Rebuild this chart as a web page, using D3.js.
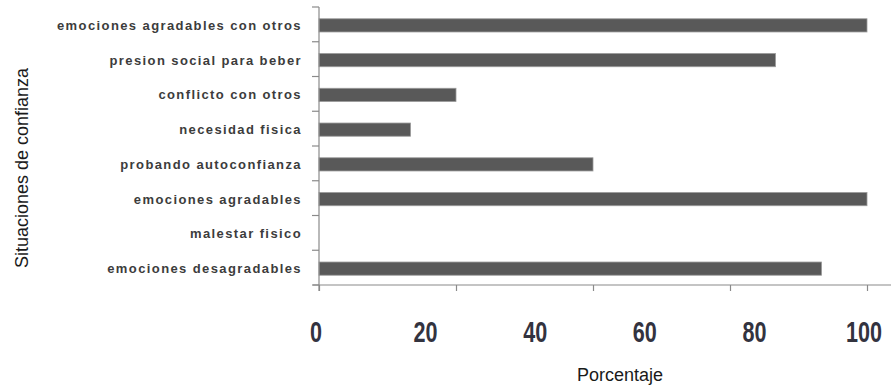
<!DOCTYPE html>
<html>
<head>
<meta charset="utf-8">
<script src="https://cdn.jsdelivr.net/npm/d3@7"></script>
<style>
  html, body { margin: 0; padding: 0; background: #fff; }
  svg { display: block; }
  .cat { font-family: "Liberation Sans", Arial, sans-serif; font-weight: bold; font-size: 13px; letter-spacing: 1.4px; fill: #3c3c3c; }
  .num { font-family: "Liberation Sans", Arial, sans-serif; font-weight: bold; font-size: 30px; fill: #33333f; }
  .title { font-family: "Liberation Sans", Arial, sans-serif; font-size: 18px; fill: #1a1a1a; }
</style>
</head>
<body>
<svg id="chart" width="891" height="387"></svg>
<script>
// Situaciones de confianza (porcentaje)
const categories = [
  "emociones agradables con otros",
  "presion social para beber",
  "conflicto con otros",
  "necesidad fisica",
  "probando autoconfianza",
  "emociones agradables",
  "malestar fisico",
  "emociones desagradables"
];
const values = [100, 83.3, 25, 16.7, 50, 100, 0, 91.7];
const tickMarks = [0, 25, 50, 75, 100];
const tickLabels = [0, 20, 40, 60, 80, 100];

const svg = d3.select("#chart");

const x = d3.scaleLinear().domain([0, 100]).range([318, 866]);
const y = d3.scaleBand()
  .domain(categories)
  .range([8, 286])
  .paddingInner(0.62)
  .paddingOuter(0.31);

const step = y.step();
const gap = (step - y.bandwidth()) / 2;

// Bars
svg.append("g")
  .selectAll("rect")
  .data(categories)
  .join("rect")
  .attr("x", x(0) + 1)
  .attr("y", d => y(d))
  .attr("width", (d, i) => Math.max(0, x(values[i]) - x(0)))
  .attr("height", y.bandwidth())
  .attr("fill", "#595959")
  .attr("stroke", "#9a9a9a")
  .attr("stroke-width", 0.8)
  .style("display", (d, i) => values[i] > 0 ? null : "none");

// Vertical axis with ticks at category boundaries
const bounds = categories.map(c => y(c) - gap - 1).concat([y(categories[categories.length - 1]) + y.bandwidth() + gap - 1]);
const axisY = svg.append("g").attr("stroke", "#8a8a8a").attr("stroke-width", 1.2);
axisY.append("line")
  .attr("x1", x(0) + 1).attr("x2", x(0) + 1)
  .attr("y1", bounds[0]).attr("y2", bounds[bounds.length - 1] + 6);
axisY.selectAll("line.t")
  .data(bounds)
  .join("line")
  .attr("class", "t")
  .attr("x1", x(0) - 6).attr("x2", x(0) + 1)
  .attr("y1", d => d).attr("y2", d => d);

// Horizontal axis
const baseY = bounds[bounds.length - 1];
const xAxis = d3.axisBottom(x).tickValues(tickMarks).tickSize(6).tickFormat("");
const gx = svg.append("g").attr("transform", `translate(1,${baseY})`).call(xAxis);
gx.select(".domain").remove();
gx.selectAll(".tick line").attr("stroke", "#8a8a8a").attr("stroke-width", 1.2);
svg.append("line")
  .attr("x1", x(0) - 5).attr("x2", 891)
  .attr("y1", baseY).attr("y2", baseY)
  .attr("stroke", "#8a8a8a").attr("stroke-width", 1.2);

// Category labels
svg.append("g")
  .selectAll("text")
  .data(categories)
  .join("text")
  .attr("class", "cat")
  .attr("x", 302)
  .attr("y", d => y(d) + y.bandwidth() / 2 + 4.5)
  .attr("text-anchor", "end")
  .text(d => d);

// Value labels under the horizontal axis (condensed numerals)
svg.append("g")
  .selectAll("text")
  .data(tickLabels)
  .join("text")
  .attr("class", "num")
  .attr("transform", d => `translate(${x(d) - 2},342) scale(0.72,1)`)
  .attr("text-anchor", "middle")
  .text(d => d);

// Axis titles
svg.append("text")
  .attr("class", "title")
  .attr("x", 620).attr("y", 381)
  .attr("text-anchor", "middle")
  .text("Porcentaje");

svg.append("text")
  .attr("class", "title")
  .attr("transform", "translate(28,168) rotate(-90)")
  .attr("text-anchor", "middle")
  .text("Situaciones de confianza");
</script>
</body>
</html>
